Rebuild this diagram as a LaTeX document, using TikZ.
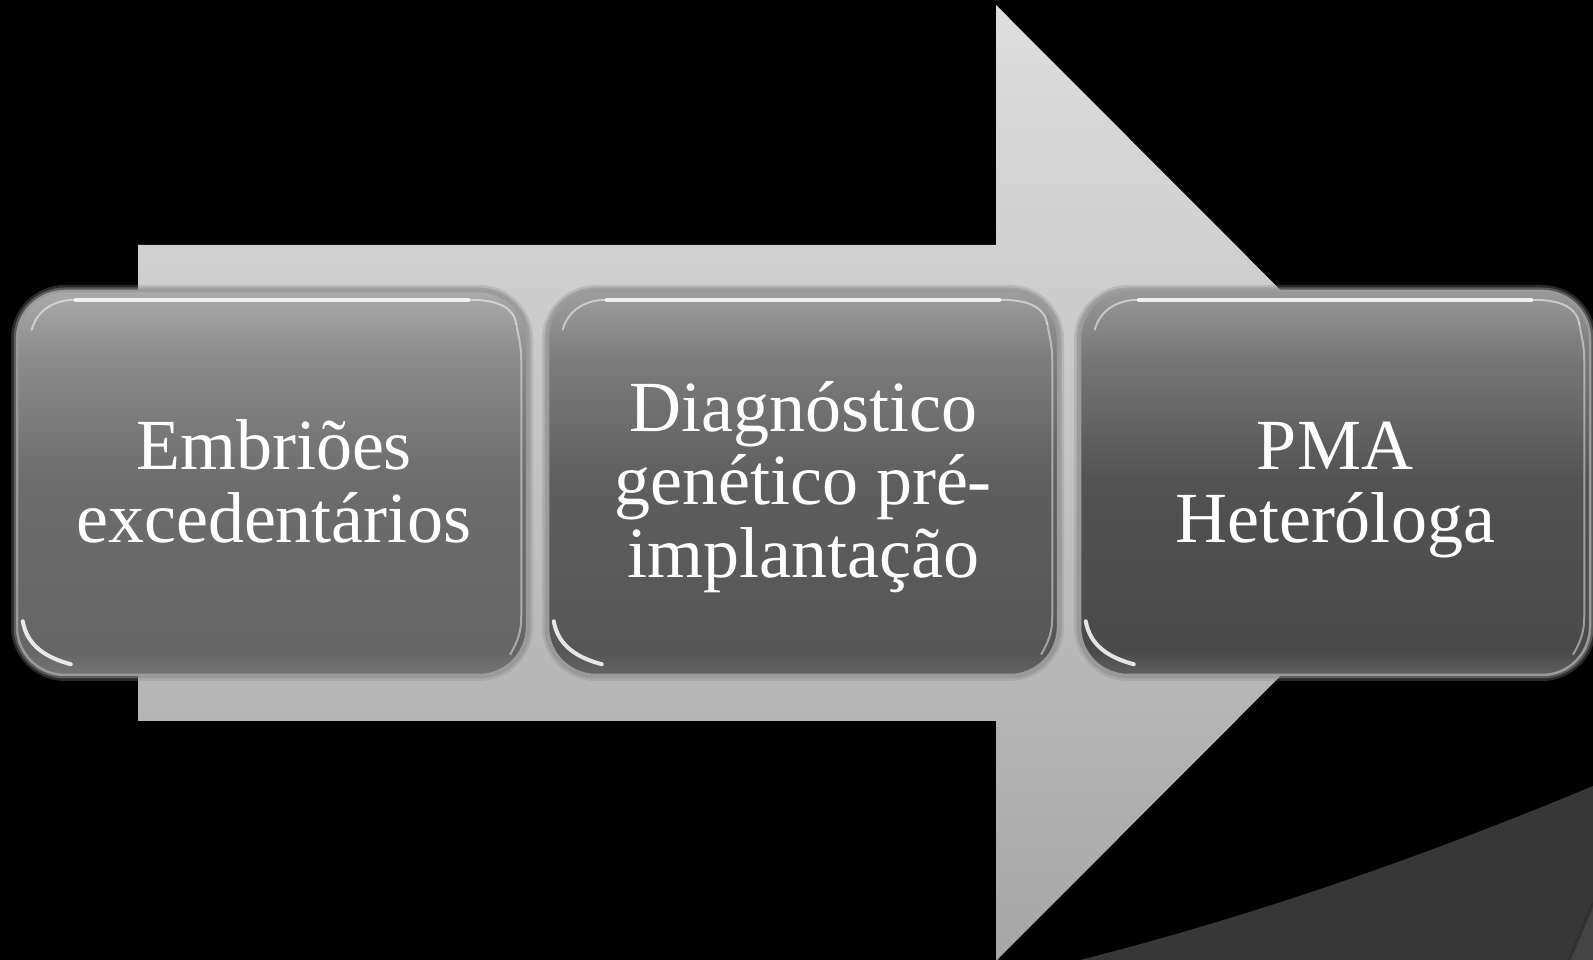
\documentclass[tikz,border=0pt]{standalone}
\usepackage{fontspec}
\setmainfont{Liberation Serif}
\usetikzlibrary{calc}
\definecolor{arrowtop}{HTML}{DEDEDE}
\definecolor{arrowbot}{HTML}{A6A6A6}
\definecolor{darkA}{HTML}{373737}
\definecolor{darkB}{HTML}{444444}
\definecolor{darkC}{HTML}{2A2A2A}
\definecolor{bord}{HTML}{9A9A9A}
\definecolor{glowA}{HTML}{8A8A8A}
\definecolor{aBot}{HTML}{747474}\definecolor{aLow}{HTML}{666666}\definecolor{aMid}{HTML}{6C6C6C}\definecolor{aUp}{HTML}{8A8A8A}\definecolor{aTop}{HTML}{AAAAAA}
\definecolor{bBot}{HTML}{646464}\definecolor{bLow}{HTML}{565656}\definecolor{bMid}{HTML}{5E5E5E}\definecolor{bUp}{HTML}{7C7C7C}\definecolor{bTop}{HTML}{9E9E9E}
\definecolor{cBot}{HTML}{606060}\definecolor{cLow}{HTML}{4A4A4A}\definecolor{cMid}{HTML}{525252}\definecolor{cUp}{HTML}{767676}\definecolor{cTop}{HTML}{989898}
\pgfdeclareverticalshading{arrowshade}{100bp}{color(0bp)=(arrowbot); color(25bp)=(arrowbot); color(75bp)=(arrowtop); color(100bp)=(arrowtop)}
\pgfdeclareverticalshading{boxA}{100bp}{color(0bp)=(aBot); color(25bp)=(aBot); color(28bp)=(aLow); color(50bp)=(aMid); color(66bp)=(aUp); color(75bp)=(aTop); color(100bp)=(aTop)}
\pgfdeclareverticalshading{boxB}{100bp}{color(0bp)=(bBot); color(25bp)=(bBot); color(28bp)=(bLow); color(50bp)=(bMid); color(66bp)=(bUp); color(75bp)=(bTop); color(100bp)=(bTop)}
\pgfdeclareverticalshading{boxC}{100bp}{color(0bp)=(cBot); color(25bp)=(cBot); color(28bp)=(cLow); color(50bp)=(cMid); color(66bp)=(cUp); color(75bp)=(cTop); color(100bp)=(cTop)}
\tikzset{
  boxbase/.style={rectangle, rounded corners=48, minimum width=510, minimum height=384,
    inner sep=0, draw=bord, line width=2.5, shade, shading=#1,
    preaction={draw=glowA, line width=12, draw opacity=.3},
    preaction={draw=glowA, line width=7, draw opacity=.5}},
  hl/.style={draw=white, line width=4, line cap=round, opacity=.85},
  hlthin/.style={draw=white, line width=2, line cap=round, opacity=.5},
  hlside/.style={draw=white, line width=2, line cap=round, opacity=.45},
  lbl/.style={text=white, align=center, inner sep=0, font=\fontsize{72}{73}\selectfont}
}
\begin{document}
\begin{tikzpicture}[x=1pt,y=1pt]
\useasboundingbox (0,0) rectangle (1593,960);
\fill[black] (0,0) rectangle (1593,960);
% bottom-right decorative curves
\fill[darkA] (1080,0) .. controls (1250,43) and (1420,102) .. (1593,174) -- (1593,0) -- cycle;
\fill[darkB] (1569,0) .. controls (1578,20) and (1586,40) .. (1593,57) -- (1593,0) -- cycle;
\draw[darkC, line width=3, opacity=.6] (1569,0) .. controls (1578,20) and (1586,40) .. (1593,57);
% big arrow
\shade[shading=arrowshade] (138,239) -- (996,239) -- (996,-1) -- (1473,477) -- (996,955) -- (996,715) -- (138,715) -- cycle;
% boxes
\node[boxbase=boxA] (b1) at (272,477) {};
\node[boxbase=boxB] (b2) at (803,477) {};
\node[boxbase=boxC] (b3) at (1335,477) {};
\foreach \b in {b1,b2,b3}{
  \draw[hlthin] ([shift={(16,-40)}]\b.north west) to[out=75,in=180] ([shift={(60,-10)}]\b.north west);
  \draw[hl] ([shift={(60,-10)}]\b.north west) -- ([shift={(-60,-10)}]\b.north east);
  \draw[hlthin] ([shift={(-60,-10)}]\b.north east) to[out=0,in=100] ([shift={(-12,-34)}]\b.north east);
  \draw[hlside] ([shift={(-12,-34)}]\b.north east) to[out=-80,in=90] ([shift={(-7,-70)}]\b.north east)
     -- ([shift={(-7,60)}]\b.south east) to[out=-90,in=60] ([shift={(-18,22)}]\b.south east);
  \draw[hl] ([shift={(7,55)}]\b.south west) to[out=-80,in=165] ([shift={(55,12)}]\b.south west);
}
% labels
\node[lbl] (t1) at (274,478.5) {Embriões\\excedentários};
\node[lbl] (t2) at (803,473) {Diagnóstico\\genético pré-\\implantação};
\node[lbl] (t3) at (1335,470) {PMA\\Heteróloga};
\end{tikzpicture}
\end{document}
